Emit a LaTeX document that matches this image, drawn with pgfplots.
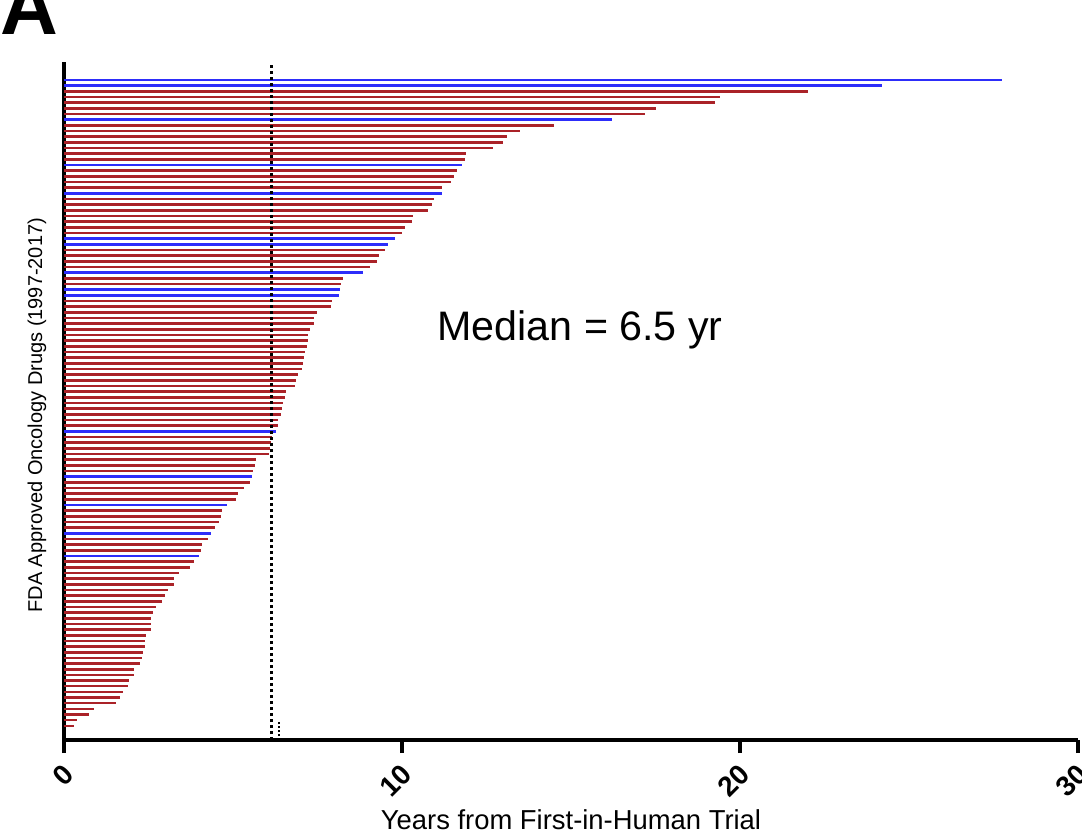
\documentclass[border=0pt]{standalone}
\usepackage{fontspec}
\setmainfont{Liberation Sans}
\usepackage{pgfplots}
\pgfplotsset{compat=1.18}
\definecolor{barred}{RGB}{170,34,40}
\definecolor{barblue}{RGB}{45,45,250}
\begin{document}
\begin{tikzpicture}
\useasboundingbox (0,0) rectangle (541pt,418pt);
\begin{axis}[
  at={(32pt,48pt)}, anchor=south west,
  scale only axis, width=507pt, height=339pt,
  xmin=0, xmax=30, ymin=-1.5, ymax=118.2,
  axis x line=bottom, axis y line=left,
  axis line style={line width=2.3pt,-},
  xtick={0,10,20,30}, ytick=\empty,
  tick align=outside, major tick length=6.5pt,
  every tick/.style={line width=2pt, black},
  /pgf/number format/assume math mode=true,
  xticklabel style={xshift=5pt, yshift=-6pt, rotate=45, anchor=east, font=\bfseries\fontsize{14}{15}\selectfont},
  xlabel={Years from First-in-Human Trial},
  xlabel style={at={(axis description cs:0.5,-0.118)}, anchor=center, font=\fontsize{13.7}{15}\selectfont},
  ylabel={FDA Approved Oncology Drugs (1997-2017)},
  ylabel style={at={(axis description cs:-0.0266,0.479)}, anchor=center, font=\fontsize{10}{11}\selectfont},
  clip=false,
]
\addplot[xcomb, no marks, line width=1.3pt, color=barred] coordinates {
(22.0,113) (19.4,112) (19.25,111) (17.5,110) (17.2,109) (14.5,107) (13.5,106) (13.1,105) (13.0,104) (12.7,103)
(11.9,102) (11.85,101) (11.63,99) (11.53,98) (11.44,97) (11.19,96) (10.94,94) (10.88,93) (10.77,92) (10.34,91)
(10.30,90) (10.10,89) (10.01,88) (9.50,85) (9.32,84) (9.27,83) (9.05,82) (8.25,80) (8.20,79) (7.94,76)
(7.91,75) (7.49,74) (7.41,73) (7.40,72) (7.28,71) (7.21,70) (7.21,69) (7.20,68) (7.12,67) (7.09,66)
(7.08,65) (7.03,64) (6.93,63) (6.87,62) (6.83,61) (6.58,60) (6.53,59) (6.48,58) (6.46,57) (6.41,56)
(6.33,55) (6.32,54) (6.15,52) (6.12,51) (6.09,50) (6.07,49) (5.69,48) (5.65,47) (5.59,46) (5.50,44)
(5.33,43) (5.14,42) (5.09,41) (4.68,39) (4.64,38) (4.59,37) (4.48,36) (4.27,34) (4.07,33) (4.04,32)
(3.84,30) (3.74,29) (3.41,28) (3.25,27) (3.24,26) (3.07,25) (2.99,24) (2.91,23) (2.73,22) (2.63,21)
(2.57,20) (2.57,19) (2.56,18) (2.42,17) (2.40,16) (2.40,15) (2.33,14) (2.32,13) (2.25,12) (2.07,11)
(2.07,10) (1.91,9) (1.90,8) (1.74,7) (1.66,6) (1.54,5) (0.89,4) (0.75,3) (0.38,2) (0.29,1)
};
\addplot[xcomb, no marks, line width=1.3pt, color=barblue] coordinates {
(27.75,115) (24.2,114) (16.2,108) (11.78,100) (11.19,95) (9.78,87) (9.59,86) (8.85,81) (8.17,78) (8.13,77)
(6.27,53) (5.55,45) (4.82,40) (4.34,35) (3.99,31)
};
\addplot[black, line width=1.6pt, dash pattern=on 1.5pt off 1.5pt] coordinates {(6.15,-1.5) (6.15,117.6)};
\addplot[black, line width=0.6pt, dash pattern=on 1pt off 1pt] coordinates {(6.36,-1.5) (6.36,1.6)};
\node[font=\fontsize{20.6}{22}\selectfont] at (axis cs:15.27,70.9) {Median = 6.5 yr};
\end{axis}
\node[anchor=base west, font=\bfseries\fontsize{40}{42}\selectfont, inner sep=0pt] at (0pt,400.5pt) {A};
\end{tikzpicture}
\end{document}
